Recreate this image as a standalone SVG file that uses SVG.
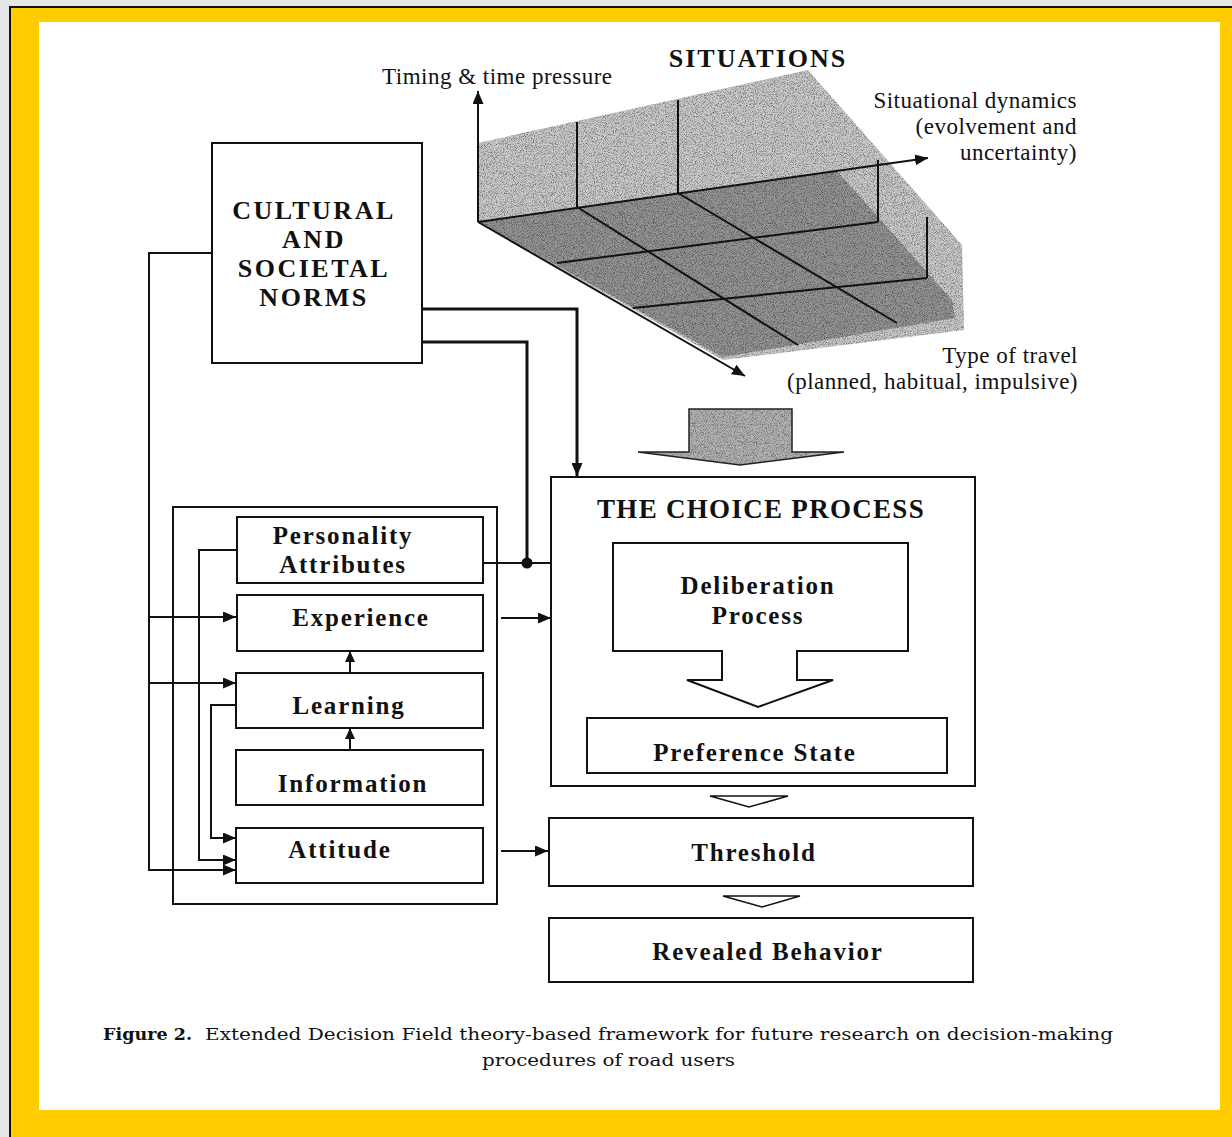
<svg xmlns="http://www.w3.org/2000/svg" width="1232" height="1137" viewBox="0 0 1232 1137">
<defs>
<style>
.bx{fill:#fff;stroke:#111;stroke-width:2}
.ln{fill:none;stroke:#111;stroke-width:2}
.thk{fill:none;stroke:#111;stroke-width:3}
.b{font-family:"Liberation Serif","Times New Roman",serif;font-weight:bold;fill:#111;font-size:25px;letter-spacing:1.8px;text-anchor:middle}
.cap{font-family:"Liberation Serif","Times New Roman",serif;font-weight:bold;fill:#111;font-size:26px;letter-spacing:2.5px;text-anchor:middle}
.r{font-family:"Liberation Serif","Times New Roman",serif;fill:#111;font-size:23px;letter-spacing:0.5px}
.cp{font-family:"DejaVu Serif","Liberation Serif",serif;fill:#111;font-size:17px}
.open{fill:#fff;stroke:#111;stroke-width:1.6}
</style>
<marker id="ah" markerUnits="userSpaceOnUse" markerWidth="13" markerHeight="11" refX="13" refY="5.5" orient="auto">
<path d="M0,0 L13,5.5 L0,11 Z" fill="#111"/>
</marker>
<marker id="ahs" markerUnits="userSpaceOnUse" markerWidth="11" markerHeight="10" refX="11" refY="5" orient="auto">
<path d="M0,0 L11,5 L0,10 Z" fill="#111"/>
</marker>
<filter id="grain" x="0" y="0" width="100%" height="100%" filterUnits="objectBoundingBox">
<feTurbulence type="fractalNoise" baseFrequency="1.1" numOctaves="2" seed="3" result="n"/>
<feColorMatrix in="n" type="matrix" values="0 0 0 0 0  0 0 0 0 0  0 0 0 0 0  0 0 0 2.2 -0.95"/>
</filter>
<clipPath id="cubeClip">
<polygon points="478,143 808,70 962,245 964,330 723,360 478,222"/>
</clipPath>
<clipPath id="arrowClip">
<polygon points="689,409 792,409 792,452 844,452 740,465 638,452 689,452"/>
</clipPath>
</defs>

<!-- page frame -->
<rect x="0" y="0" width="1232" height="1137" fill="#e6e6e6"/>
<rect x="9" y="6" width="1223" height="1131" fill="#111"/>
<rect x="11" y="8" width="1221" height="1129" fill="#ffcc00"/>
<rect x="39" y="22" width="1181" height="1088" fill="#fff"/>

<!-- situations cube -->
<g id="situations">
<polygon points="478,143 808,70 962,245 964,330 723,360 478,222" fill="#cbcbcb"/>
<polygon points="478,222 837,171 952,300 955,318 723,357" fill="#959595"/>
<g clip-path="url(#cubeClip)">
<rect x="470" y="60" width="500" height="310" filter="url(#grain)" opacity="0.55"/>
</g>
<g class="ln">
<line x1="478" y1="222" x2="478" y2="91" marker-end="url(#ah)"/>
<line x1="478" y1="222" x2="928" y2="158" marker-end="url(#ah)"/>
<line x1="478" y1="222" x2="745" y2="376" marker-end="url(#ah)"/>
<line x1="577" y1="207" x2="798" y2="345"/>
<line x1="678" y1="193" x2="897" y2="323"/>
<line x1="557" y1="263" x2="878" y2="222"/>
<line x1="633" y1="308" x2="927" y2="278"/>
<line x1="577" y1="122" x2="577" y2="207"/>
<line x1="678" y1="100" x2="678" y2="193"/>
<line x1="878" y1="160" x2="878" y2="222"/>
<line x1="927" y1="217" x2="927" y2="278"/>
</g>
<text class="cap" x="758" y="67" style="letter-spacing:2px">SITUATIONS</text>
<text class="r" x="382" y="84">Timing &amp; time pressure</text>
<text class="r" x="1077" y="108" text-anchor="end">Situational dynamics</text>
<text class="r" x="1077" y="134" text-anchor="end">(evolvement and</text>
<text class="r" x="1077" y="160" text-anchor="end">uncertainty)</text>
<text class="r" x="1078" y="363" text-anchor="end">Type of travel</text>
<text class="r" x="1078" y="389" text-anchor="end">(planned, habitual, impulsive)</text>
</g>

<!-- block arrow from situations -->
<g id="situations-arrow">
<polygon points="689,409 792,409 792,452 844,452 740,465 638,452 689,452" fill="#b3b3b3"/>
<g clip-path="url(#arrowClip)">
<rect x="630" y="400" width="220" height="70" filter="url(#grain)" opacity="0.5"/>
</g>
<polygon points="689,409 792,409 792,452 844,452 740,465 638,452 689,452" fill="none" stroke="#222" stroke-width="1.5"/>
</g>

<!-- connectors -->
<g id="connectors">
<path class="thk" d="M415,309 H577 V476" marker-end="url(#ah)"/>
<path class="thk" d="M415,342 H527 V563"/>
<circle cx="527" cy="563" r="5.5" fill="#111"/>
<path class="ln" d="M477,563 H613" marker-end="url(#ah)"/>
<path class="ln" d="M501,618 H551" marker-end="url(#ah)"/>
<path class="ln" d="M501,851 H548" marker-end="url(#ah)"/>
<path class="ln" d="M350,672 V651" marker-end="url(#ahs)"/>
<path class="ln" d="M350,750 V728" marker-end="url(#ahs)"/>
<path class="ln" d="M212,253 H149 V870 H236" marker-end="url(#ah)"/>
<path class="ln" d="M149,617 H236" marker-end="url(#ah)"/>
<path class="ln" d="M149,683 H236" marker-end="url(#ah)"/>
<path class="ln" d="M237,550 H199 V860 H236" marker-end="url(#ah)"/>
<path class="ln" d="M236,705 H211 V838 H236" marker-end="url(#ah)"/>
</g>

<!-- cultural norms -->
<g id="cultural">
<rect class="bx" x="212" y="143" width="210" height="220"/>
<text class="cap" x="314" y="219">CULTURAL</text>
<text class="cap" x="314" y="248">AND</text>
<text class="cap" x="314" y="277">SOCIETAL</text>
<text class="cap" x="314" y="306">NORMS</text>
</g>

<!-- individual factors container -->
<g id="factors">
<rect x="173" y="507" width="324" height="397" fill="none" stroke="#111" stroke-width="2"/>
</g>
<g id="personality">
<rect class="bx" x="237" y="517" width="246" height="66"/>
<text class="b" x="343" y="544">Personality</text>
<text class="b" x="343" y="573">Attributes</text>
</g>
<g id="experience">
<rect class="bx" x="237" y="595" width="246" height="56"/>
<text class="b" x="361" y="626">Experience</text>
</g>
<g id="learning">
<rect class="bx" x="236" y="673" width="247" height="55"/>
<text class="b" x="349" y="714">Learning</text>
</g>
<g id="information">
<rect class="bx" x="236" y="750" width="247" height="55"/>
<text class="b" x="353" y="792">Information</text>
</g>
<g id="attitude">
<rect class="bx" x="236" y="828" width="247" height="55"/>
<text class="b" x="340" y="858">Attitude</text>
</g>

<!-- choice process -->
<g id="choice-process">
<rect class="bx" x="551" y="477" width="424" height="309"/>
<text class="cap" x="761" y="518" style="font-size:27px;letter-spacing:1.3px">THE CHOICE PROCESS</text>
</g>
<g id="deliberation">
<polygon class="bx" points="613,543 908,543 908,651 797,651 797,680 833,680 758,707 687,680 722,680 722,651 613,651"/>
<text class="b" x="758" y="594">Deliberation</text>
<text class="b" x="758" y="624">Process</text>
</g>
<g id="preference">
<rect class="bx" x="587" y="718" width="360" height="55"/>
<text class="b" x="755" y="761">Preference State</text>
</g>
<g id="open-arrows">
<polygon class="open" points="710,796 788,796 749,807"/>
<polygon class="open" points="723,896 800,896 762,907"/>
</g>
<g id="threshold">
<rect class="bx" x="549" y="818" width="424" height="68"/>
<text class="b" x="754" y="861">Threshold</text>
</g>
<g id="revealed">
<rect class="bx" x="549" y="918" width="424" height="64"/>
<text class="b" x="768" y="960">Revealed Behavior</text>
</g>

<!-- caption -->
<g id="caption">
<text class="cp" x="103" y="1040" font-weight="bold" textLength="89" lengthAdjust="spacingAndGlyphs">Figure 2.</text>
<text class="cp" x="205" y="1040" textLength="908" lengthAdjust="spacingAndGlyphs">Extended Decision Field theory-based framework for future research on decision-making</text>
<text class="cp" x="482" y="1066" textLength="253" lengthAdjust="spacingAndGlyphs">procedures of road users</text>
</g>
</svg>
